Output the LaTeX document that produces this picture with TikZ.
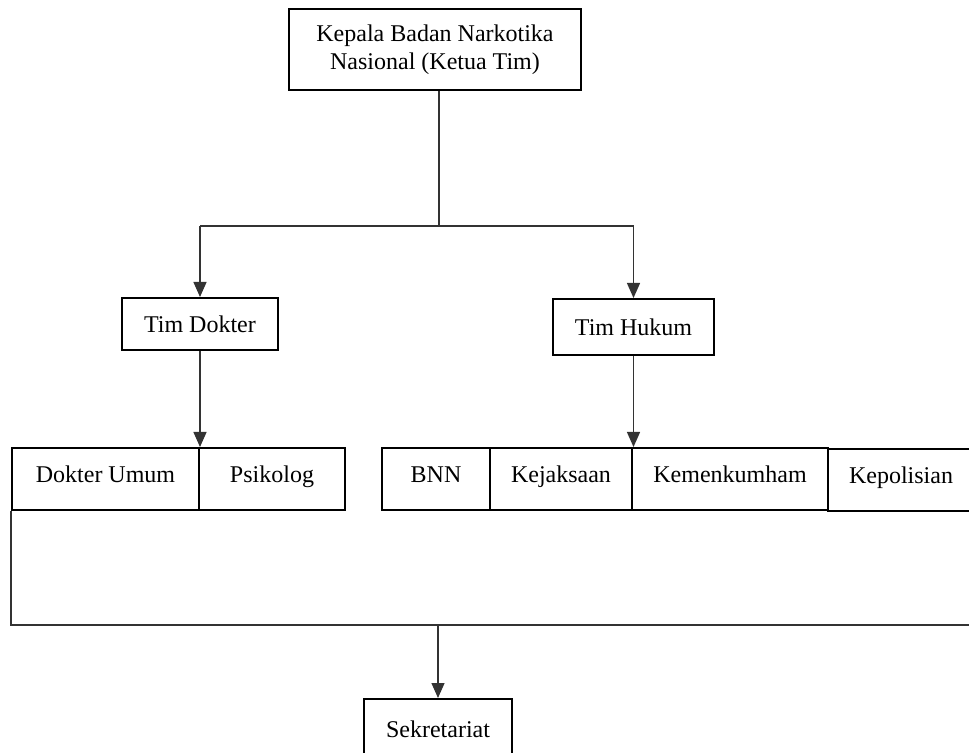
\documentclass[tikz,border=0pt]{standalone}
\usepackage{fontspec}
\setmainfont{Liberation Serif}
\usetikzlibrary{arrows.meta, positioning}

\begin{document}
\begin{tikzpicture}[x=0.5pt, y=-0.5pt,
        font=\fontsize{12pt}{13.8pt}\selectfont,
        box/.style={draw, line width=1pt, rectangle, inner sep=0pt, align=center},
        anggota/.style={box, minimum height=31pt, text height=7pt, text depth=4pt},
        conn/.style={draw=black!80, line width=0.65pt},
        arr/.style={conn, -{Triangle[width=6.5pt, length=7.5pt]}}]
        \useasboundingbox (0,0) rectangle (969,753);
        % Ketua tim
        \node[box, minimum width=146pt, minimum height=40.5pt] (ketua) at (435,49.5)
            {Kepala Badan Narkotika\\Nasional (Ketua Tim)};
        % Tim dokter dan tim hukum
        \node[box, minimum width=78pt, minimum height=26pt] (dokter) at (200,324) {Tim Dokter};
        \node[box, minimum width=80.5pt, minimum height=28pt] (hukum) at (633.5,327) {Tim Hukum};
        % Anggota tim dokter
        \node[anggota, minimum width=93.5pt] (umum) at (105.5,479) {Dokter Umum};
        \node[anggota, minimum width=73pt] (psikolog) at (272,479) {Psikolog};
        % Anggota tim hukum
        \node[anggota, minimum width=54pt] (bnn) at (436,479) {BNN};
        \node[anggota, minimum width=71pt] (jaksa) at (561,479) {Kejaksaan};
        \node[anggota, minimum width=98pt] (kumham) at (730,479) {Kemenkumham};
        \node[anggota, minimum width=73pt] (polisi) at (901,480) {Kepolisian};
        % Sekretariat
        \node[box, minimum width=74pt, minimum height=30.5pt] (sekre) at (438,729.5) {Sekretariat};
        % Cabang atas
        \coordinate (split) at (439,226);
        \draw[conn] (ketua.south -| split) -- (split);
        \draw[conn] (split -| dokter.north) -- (split -| hukum.north);
        \draw[arr] (split -| dokter.north) -- (dokter.north);
        \draw[arr] (split -| hukum.north) -- (hukum.north);
        % Panah ke anggota
        \draw[arr] (dokter.south) -- (dokter.south |- umum.north);
        \draw[arr] (hukum.south) -- (hukum.south |- jaksa.north);
        % Garis bawah ke sekretariat
        \coordinate (join) at (12,625);
        \coordinate (ujung) at (975,625);
        \draw[conn] (umum.south west) -- (umum.south west |- join) -- (ujung);
        \draw[arr] (join -| sekre.north) -- (sekre.north);
    \end{tikzpicture}
\end{document}
